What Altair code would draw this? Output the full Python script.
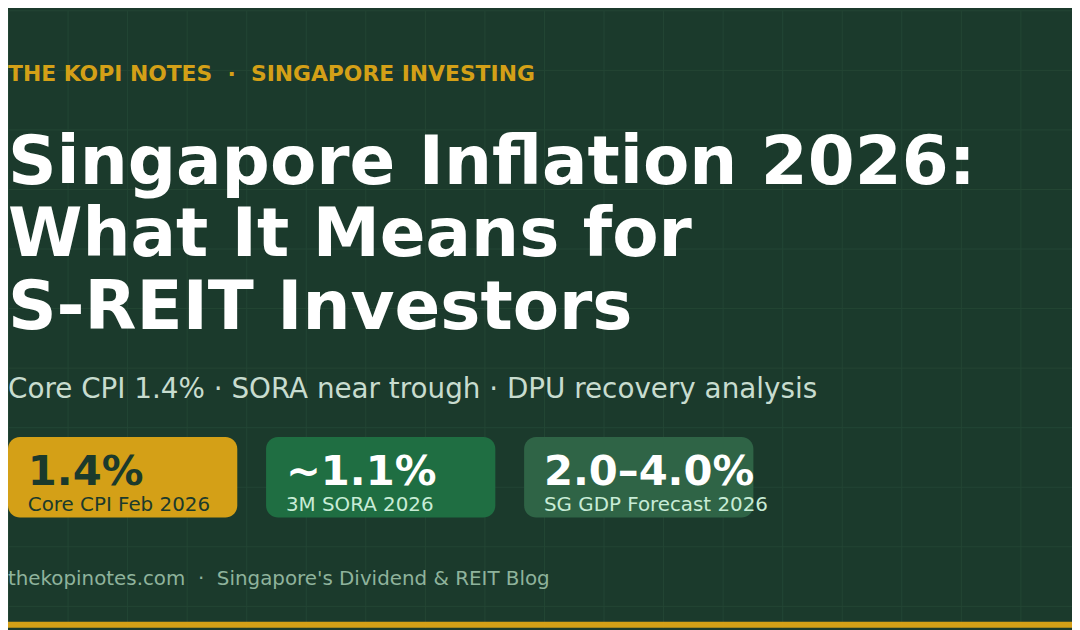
import altair as alt
import pandas as pd

# Text content
header = "THE KOPI NOTES \u00a0·\u00a0 SINGAPORE INVESTING"
title_lines = ["Singapore Inflation 2026:", "What It Means for", "S-REIT Investors"]
subtitle = "Core CPI 1.4% · SORA near trough · DPU recovery analysis"
footer = "thekopinotes.com \u00a0·\u00a0 Singapore's Dividend & REIT Blog"

# Stat cards
card_values = ["1.4%", "~1.1%", "2.0–4.0%"]
card_labels = ["Core CPI Feb 2026", "3M SORA 2026", "SG GDP Forecast 2026"]
card_fill = ["#d4a017", "#1f6e42", "#2f6446"]
card_value_color = ["#1b3a2c", "#ffffff", "#ffffff"]
card_label_color = ["#1b3a2c", "#c8ecd6", "#c8ecd6"]

W, H = 1072, 622
BG = "#1b3a2c"
GOLD = "#d4a017"

xs = alt.Scale(domain=[0, W], nice=False, zero=False)
ys = alt.Scale(domain=[0, H], nice=False, zero=False, reverse=True)

# card table (x position by slot)
cards = pd.DataFrame({
    "value": card_values,
    "label": card_labels,
    "fill": card_fill,
    "vcol": card_value_color,
    "lcol": card_label_color,
})
cards["x0"] = [i * 260 for i in range(len(cards))]
cards["x1"] = cards["x0"] + 231
cards["tx"] = cards["x0"] + 20
cards["y0"] = 430
cards["y1"] = 511
cards["vy"] = 478
cards["ly"] = 504

# grid via axes on an invisible rect layer
bg = alt.Chart(pd.DataFrame({"a": [0], "b": [W], "c": [0], "d": [H]})).mark_rect(
    opacity=0
).encode(
    x=alt.X("a:Q", scale=xs, axis=alt.Axis(values=list(range(0, W + 1, 60)), grid=True,
            gridColor="#234634", gridWidth=1, labels=False, ticks=False, domain=False, title=None)),
    x2="b:Q",
    y=alt.Y("c:Q", scale=ys, axis=alt.Axis(values=list(range(0, H + 1, 60)), grid=True,
            gridColor="#234634", gridWidth=1, labels=False, ticks=False, domain=False, title=None)),
    y2="d:Q",
)

boxes = alt.Chart(cards).mark_rect(cornerRadius=12).encode(
    x=alt.X("x0:Q", scale=xs), x2="x1:Q",
    y=alt.Y("y0:Q", scale=ys), y2="y1:Q",
    color=alt.Color("fill:N", scale=None),
)

vals = alt.Chart(cards).mark_text(
    align="left", baseline="alphabetic", font="DejaVu Sans", fontWeight="bold", fontSize=42
).encode(
    x=alt.X("tx:Q", scale=xs), y=alt.Y("vy:Q", scale=ys),
    text="value:N", color=alt.Color("vcol:N", scale=None),
)

labs = alt.Chart(cards).mark_text(
    align="left", baseline="alphabetic", font="DejaVu Sans", fontSize=20
).encode(
    x=alt.X("tx:Q", scale=xs), y=alt.Y("ly:Q", scale=ys),
    text="label:N", color=alt.Color("lcol:N", scale=None),
)

# headline texts
bold_txt = pd.DataFrame({
    "t": [header] + title_lines,
    "x": [0, 0, 0, 0],
    "y": [71, 175, 248, 321],
    "s": [22, 68, 68, 68],
    "c": [GOLD, "#ffffff", "#ffffff", "#ffffff"],
})
plain_txt = pd.DataFrame({
    "t": [subtitle, footer],
    "x": [0, 0],
    "y": [391, 579],
    "s": [28, 20],
    "c": ["#c8dccf", "#8fb39c"],
})

bold = alt.Chart(bold_txt).mark_text(
    align="left", baseline="alphabetic", font="DejaVu Sans", fontWeight="bold"
).encode(
    x=alt.X("x:Q", scale=xs), y=alt.Y("y:Q", scale=ys),
    text="t:N", size=alt.Size("s:Q", scale=None), color=alt.Color("c:N", scale=None),
)

plain = alt.Chart(plain_txt).mark_text(
    align="left", baseline="alphabetic", font="DejaVu Sans"
).encode(
    x=alt.X("x:Q", scale=xs), y=alt.Y("y:Q", scale=ys),
    text="t:N", size=alt.Size("s:Q", scale=None), color=alt.Color("c:N", scale=None),
)

# bottom gold strip
strip = alt.Chart(pd.DataFrame({"a": [0], "b": [W], "c": [H - 6], "d": [H]})).mark_rect(
    color=GOLD
).encode(
    x=alt.X("a:Q", scale=xs), x2="b:Q",
    y=alt.Y("c:Q", scale=ys), y2="d:Q",
)

chart = alt.layer(bg, boxes, vals, labs, bold, plain, strip).properties(
    width=W, height=H, padding=0, autosize=alt.AutoSizeParams(type="none"),
    background=BG,
).configure_view(stroke=None)

chart.save("out.html", embed_options={"renderer": "svg", "actions": False})
